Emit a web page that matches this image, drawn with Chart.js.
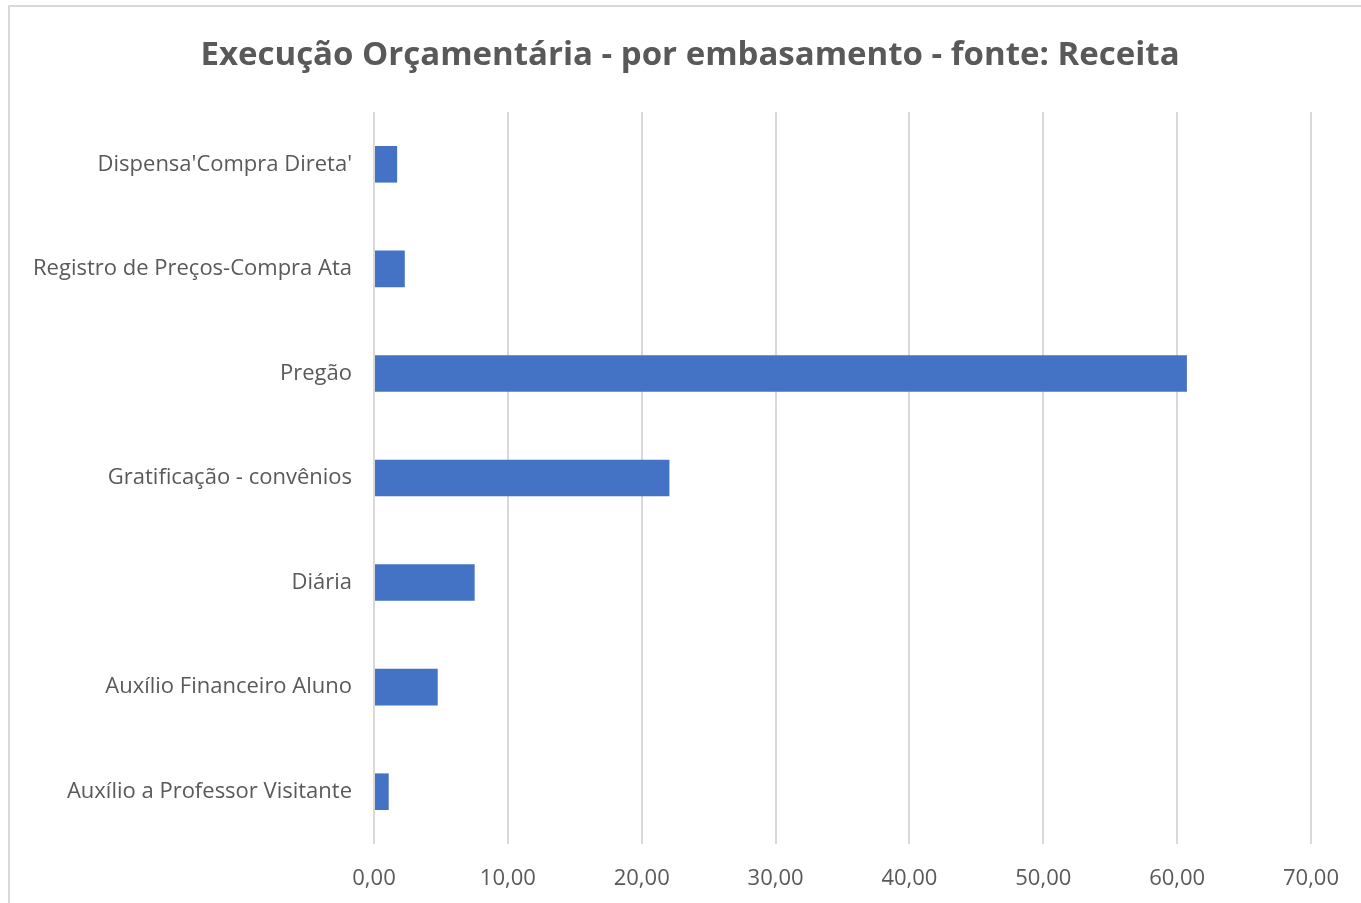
<!DOCTYPE html>
<html>
<head>
<meta charset="utf-8">
<script src="https://cdn.jsdelivr.net/npm/chart.js@4"></script>
<style>
  html, body { margin: 0; padding: 0; background: #fff; overflow: hidden; }
  #frame {
    position: absolute; left: 8px; top: 5px; width: 1400px; height: 950px;
    border: 2px solid #d9d9d9; box-sizing: border-box;
  }
  #wrap { position: absolute; left: 0; top: 0; width: 1361px; height: 903px; }
</style>
</head>
<body>
<div id="frame"></div>
<div id="wrap"><canvas id="chart"></canvas></div>
<script>
// Categories as listed top to bottom
const categories = [
  "Dispensa'Compra Direta'",
  "Registro de Preços-Compra Ata",
  "Pregão",
  "Gratificação - convênios",
  "Diária",
  "Auxílio Financeiro Aluno",
  "Auxílio a Professor Visitante"
];
const values = [1.73, 2.30, 60.73, 22.07, 7.52, 4.76, 1.10];
const xMin = 0;
const xMax = 70;
const xStep = 10;
const chartTitle = "Execução Orçamentária - por embasamento - fonte: Receita";

const textColor = "#595959";
const gridColor = "#d9d9d9";

// the title sits centred on the whole frame, not on the padded box
const frameTitle = {
  id: "frameTitle",
  afterDraw(chart) {
    const ctx = chart.ctx;
    ctx.save();
    ctx.font = "bold 33px 'Open Sans'";
    ctx.fillStyle = textColor;
    ctx.textAlign = "center";
    ctx.textBaseline = "middle";
    ctx.fillText(chartTitle, 690, 56);
    ctx.restore();
  }
};

new Chart(document.getElementById("chart"), {
  type: "bar",
  data: {
    labels: categories,
    datasets: [{
      data: values,
      backgroundColor: "#4472c4",
      borderWidth: 0,
      categoryPercentage: 0.7,
      barPercentage: 0.5
    }]
  },
  plugins: [frameTitle],
  options: {
    indexAxis: "y",
    responsive: true,
    maintainAspectRatio: false,
    animation: false,
    layout: { padding: { left: 10, right: 28, top: 112, bottom: 0 } },
    plugins: {
      legend: { display: false },
      tooltip: { enabled: false },
      title: { display: false }
    },
    scales: {
      x: {
        min: xMin,
        max: xMax,
        afterFit: s => { s.height = 59; },
        ticks: {
          stepSize: xStep,
          color: textColor,
          font: { family: "Open Sans", size: 22 },
          padding: 22,
          callback: v => v.toFixed(2).replace(".", ",")
        },
        grid: { color: gridColor, lineWidth: 2, drawTicks: false },
        border: { display: false }
      },
      y: {
        afterFit: s => { s.width = 364; },
        ticks: {
          color: textColor,
          font: { family: "Open Sans", size: 22 },
          padding: 22
        },
        grid: { display: false, drawTicks: false },
        border: { display: false }
      }
    }
  }
});
</script>
</body>
</html>
